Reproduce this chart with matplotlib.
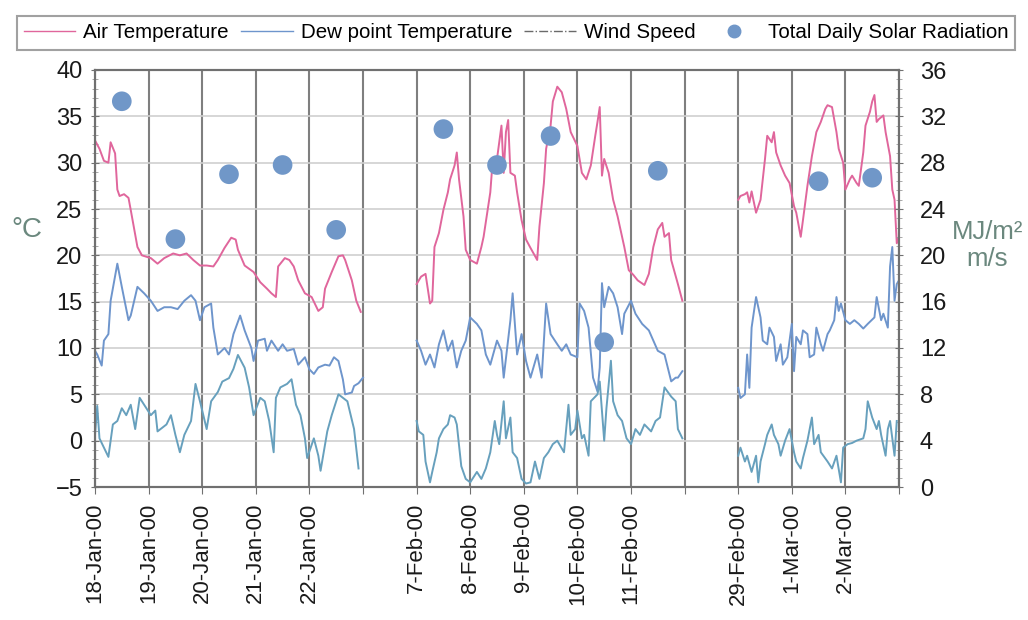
import math

import matplotlib
matplotlib.use("Agg")
import matplotlib.pyplot as plt
from matplotlib.lines import Line2D
from matplotlib.ticker import MultipleLocator

plt.rcParams["font.family"] = ["Liberation Sans", "DejaVu Sans"]

# category slots on the x axis ("" = unlabelled day between blocks)
DAY_LABELS = ["18-Jan-00", "19-Jan-00", "20-Jan-00", "21-Jan-00", "22-Jan-00", "",
              "7-Feb-00", "8-Feb-00", "9-Feb-00", "10-Feb-00", "11-Feb-00", "",
              "29-Feb-00", "1-Mar-00", "2-Mar-00"]
N_SLOTS = 15

# total daily solar radiation (MJ/m2), one per slot, nan = no value
SOLAR = [33.3, 21.4, 27.0, 27.8, 22.2, math.nan,
         30.9, 27.8, 30.3, 12.5, 27.3, math.nan,
         math.nan, 26.4, 26.7]

# ---- block 1: 18-22 Jan (hours since 00:00 18-Jan) ----
JAN_AIR_HR = [0, 2, 4, 6, 7, 9, 10, 11, 13, 15, 16, 19, 21, 25, 28, 31, 35, 38, 41, 44,
              47, 50, 53, 55, 58, 61, 63, 64, 67, 71, 74, 77, 79, 81, 82, 85, 87, 89, 91, 94,
              97, 100, 102, 103, 106, 109, 111, 112, 115, 117, 119]
JAN_AIR = [32.4, 31.5, 30.2, 30.0, 32.2, 31.0, 27.1, 26.4, 26.6, 26.2, 24.9, 20.9, 20.0, 19.7,
           19.1, 19.7, 20.2, 20.0, 20.2, 19.5, 18.9, 18.9, 18.8, 19.5, 20.8, 21.9, 21.7, 20.6,
           18.9, 18.2, 17.1, 16.4, 15.9, 15.5, 18.8, 19.7, 19.5, 18.8, 17.3, 15.9, 15.5, 14.0,
           14.4, 16.4, 18.2, 19.9, 20.0, 19.5, 17.3, 15.1, 13.9]
JAN_DEW_HR = [0, 1, 3, 4, 6, 7, 10, 12, 15, 16, 19, 22, 25, 28, 31, 34, 37, 40, 43, 45,
              47, 49, 52, 53, 55, 58, 60, 62, 65, 67, 70, 71, 73, 76, 77, 79, 82, 84, 86, 89,
              91, 94, 96, 98, 100, 103, 105, 107, 109, 111, 112, 115, 116, 118, 120]
JAN_DEW = [9.7, 9.3, 8.1, 10.8, 11.5, 15.1, 19.1, 16.6, 13.0, 13.5, 16.6, 15.9, 15.1, 14.0,
           14.4, 14.4, 14.2, 15.1, 15.7, 15.1, 13.0, 14.4, 14.8, 12.2, 9.3, 10.0, 9.3, 11.5,
           13.5, 11.9, 10.0, 8.6, 10.8, 11.0, 9.7, 10.8, 9.7, 10.4, 9.7, 9.9, 8.2, 9.0, 7.7,
           7.2, 7.9, 8.2, 8.1, 9.0, 8.6, 6.6, 5.0, 5.2, 5.9, 6.2, 6.8]
JAN_WIND_HR = [0, 1, 2, 4, 6, 8, 10, 12, 14, 16, 18, 20, 22, 25, 27, 28, 32, 34, 36, 38,
               40, 43, 45, 47, 50, 52, 55, 57, 60, 62, 64, 67, 69, 71, 74, 76, 78, 80, 81, 83,
               86, 88, 90, 92, 94, 95, 98, 100, 101, 104, 106, 109, 111, 113, 116, 118]
JAN_WIND = [4.5, 7.0, 4.2, 3.4, 2.6, 5.4, 5.7, 6.8, 6.2, 7.1, 5.0, 7.7, 7.1, 6.2, 6.6, 4.8,
            5.4, 6.2, 4.5, 3.0, 4.5, 5.7, 8.9, 7.4, 5.0, 7.4, 8.2, 9.1, 9.4, 10.2, 11.4, 10.3,
            8.6, 6.2, 7.7, 7.4, 5.7, 3.0, 7.7, 8.6, 8.9, 9.3, 7.1, 6.2, 4.2, 2.5, 4.2, 2.7,
            1.4, 4.8, 6.2, 8.0, 7.7, 7.4, 5.0, 1.6]

# ---- block 2: 7-11 Feb (hours since 00:00 7-Feb) ----
FEB_AIR_HR = [0, 2, 4, 6, 7, 8, 10, 12, 14, 15, 17, 18, 19, 21, 22, 24, 27, 29, 30, 33,
              34, 36, 38, 39, 40, 41, 42, 44, 45, 47, 49, 51, 54, 55, 57, 58, 60, 61, 63, 65,
              67, 69, 72, 74, 76, 78, 80, 81, 82, 83, 84, 86, 88, 90, 93, 95, 97, 99, 102, 104,
              106, 108, 110, 111, 113, 114, 117, 119]
FEB_AIR = [16.9, 17.7, 18.0, 14.8, 15.1, 20.9, 22.4, 24.9, 26.8, 28.2, 29.7, 31.1, 28.2, 24.2,
           20.6, 19.5, 19.1, 20.9, 22.0, 26.8, 30.0, 30.4, 34.0, 28.9, 33.3, 34.6, 28.9, 28.6,
           26.8, 23.8, 21.7, 20.8, 19.5, 23.1, 27.8, 31.5, 34.0, 36.6, 38.2, 37.6, 35.8, 33.3,
           31.8, 28.9, 28.2, 29.7, 32.9, 34.4, 36.0, 28.6, 30.4, 28.9, 26.0, 24.2, 20.9, 18.4,
           17.9, 17.3, 16.8, 18.0, 20.9, 22.8, 23.5, 22.0, 22.4, 19.5, 16.9, 15.1]
FEB_DEW_HR = [0, 2, 4, 6, 8, 10, 12, 14, 16, 18, 20, 22, 24, 27, 29, 31, 33, 36, 38, 39,
              42, 43, 45, 47, 49, 51, 54, 56, 58, 60, 63, 65, 67, 69, 72, 73, 75, 77, 79, 81,
              82, 83, 84, 86, 88, 90, 92, 93, 96, 98, 101, 104, 106, 108, 111, 114, 116, 117, 119]
FEB_DEW = [10.8, 9.7, 8.2, 9.3, 7.9, 10.4, 11.9, 9.7, 10.8, 7.9, 9.7, 10.8, 13.3, 12.6, 11.9,
           9.3, 8.2, 10.8, 9.7, 6.8, 13.0, 15.9, 9.3, 11.5, 8.6, 6.8, 9.3, 6.8, 14.8, 11.5,
           10.4, 9.7, 10.4, 9.3, 9.0, 14.8, 14.0, 12.2, 6.8, 5.3, 7.9, 17.0, 14.4, 16.6, 15.9,
           14.4, 11.5, 13.7, 15.1, 13.7, 12.6, 11.9, 10.8, 9.7, 9.3, 6.4, 6.8, 6.8, 7.5]
FEB_WIND_HR = [0, 1, 3, 4, 6, 7, 9, 10, 12, 14, 15, 17, 18, 20, 22, 24, 27, 29, 31, 33,
               35, 36, 37, 39, 40, 42, 43, 45, 47, 49, 51, 53, 55, 57, 59, 61, 63, 66, 68, 69,
               71, 72, 74, 75, 77, 78, 81, 82, 84, 85, 87, 88, 90, 92, 94, 96, 98, 100, 102, 105,
               107, 109, 111, 114, 116, 117, 119]
FEB_WIND = [5.7, 4.8, 4.5, 2.2, 0.4, 1.3, 3.0, 4.2, 5.0, 5.4, 6.2, 6.0, 5.4, 1.8, 0.7, 0.4,
            1.3, 0.7, 1.6, 3.0, 5.7, 4.5, 3.7, 7.4, 4.2, 6.0, 3.0, 2.5, 0.7, 0.3, 0.4, 2.2,
            0.7, 2.5, 3.0, 3.7, 4.0, 3.0, 7.1, 4.5, 5.0, 6.6, 4.2, 4.5, 2.7, 7.4, 8.0, 9.1,
            4.0, 6.8, 10.9, 7.4, 6.2, 5.7, 4.2, 3.7, 5.0, 4.5, 5.4, 4.8, 5.7, 6.0, 8.6, 7.8,
            7.4, 5.0, 4.2]

# ---- block 3: 29 Feb - 2 Mar (hours since 00:00 29-Feb) ----
MAR_AIR_HR = [0, 1, 3, 4, 5, 6, 8, 9, 10, 12, 13, 15, 16, 17, 19, 21, 23, 25, 26, 28,
              29, 31, 33, 35, 37, 39, 40, 42, 44, 45, 47, 48, 50, 51, 53, 54, 56, 57, 59, 60,
              61, 62, 63, 65, 66, 68, 69, 70, 71, 72]
MAR_AIR = [26.0, 26.4, 26.6, 26.8, 25.7, 26.9, 24.6, 25.3, 26.0, 30.4, 32.9, 32.2, 33.3, 31.1,
           29.7, 28.6, 27.8, 25.3, 24.6, 22.0, 23.8, 27.5, 30.7, 33.3, 34.4, 35.8, 36.2, 36.0,
           33.3, 31.5, 30.0, 27.1, 28.2, 28.6, 27.8, 27.5, 31.1, 34.0, 35.5, 36.6, 37.3, 34.4,
           34.7, 35.1, 33.3, 30.7, 27.1, 26.0, 21.3, 22.0]
MAR_DEW_HR = [0, 1, 3, 4, 5, 6, 8, 9, 10, 11, 13, 14, 16, 17, 19, 20, 22, 24, 25, 26,
              28, 29, 31, 32, 34, 35, 37, 38, 40, 41, 43, 44, 45, 46, 48, 50, 52, 54, 56, 58,
              61, 62, 64, 65, 67, 68, 69, 70, 71, 72]
MAR_DEW = [5.7, 4.6, 5.0, 9.3, 5.7, 12.2, 15.5, 14.4, 13.3, 10.8, 10.4, 12.2, 11.2, 8.6, 10.4,
           8.2, 9.0, 12.6, 7.5, 11.2, 10.4, 11.9, 11.5, 9.0, 9.3, 12.2, 10.4, 9.7, 11.5, 11.9,
           13.0, 15.5, 14.0, 14.8, 13.0, 12.6, 13.0, 12.6, 12.1, 12.6, 13.3, 15.5, 13.0, 13.7,
           12.2, 18.8, 20.9, 15.1, 16.9, 17.3]
MAR_WIND_HR = [0, 1, 3, 4, 6, 8, 9, 10, 12, 13, 15, 16, 18, 19, 21, 23, 25, 26, 28, 29,
               31, 33, 34, 36, 37, 40, 42, 44, 46, 47, 49, 51, 53, 56, 57, 58, 60, 62, 63, 64,
               66, 67, 68, 70, 71]
MAR_WIND = [2.7, 3.4, 2.2, 2.7, 1.3, 2.7, 0.4, 2.2, 3.7, 4.5, 5.4, 4.5, 3.7, 2.7, 4.0, 5.0,
            3.0, 2.2, 1.6, 2.5, 4.0, 6.0, 3.7, 4.5, 3.0, 2.2, 1.6, 2.7, 0.4, 3.4, 3.7, 3.8,
            4.0, 4.2, 5.0, 7.4, 6.0, 5.0, 5.7, 4.5, 2.7, 5.0, 5.7, 2.7, 5.7]

BLOCKS = [
    ("18-Jan-00", JAN_AIR_HR, JAN_AIR, JAN_DEW_HR, JAN_DEW, JAN_WIND_HR, JAN_WIND),
    ("7-Feb-00", FEB_AIR_HR, FEB_AIR, FEB_DEW_HR, FEB_DEW, FEB_WIND_HR, FEB_WIND),
    ("29-Feb-00", MAR_AIR_HR, MAR_AIR, MAR_DEW_HR, MAR_DEW, MAR_WIND_HR, MAR_WIND),
]

AIR_COLOR = "#e0669c"
DEW_COLOR = "#6e95cc"
WIND_COLOR = "#67a0bd"
SOLAR_COLOR = "#7097c8"
NOTE_COLOR = "#6b887e"


def to_x(first_day, hours):
    start = DAY_LABELS.index(first_day)
    return [start + h / 24.0 for h in hours]


fig = plt.figure(figsize=(10.28, 6.2), dpi=100)
ax = fig.add_axes([95 / 1028, 1 - 487 / 620, 804 / 1028, 417 / 620])
ax2 = ax.twinx()

for first, air_h, air, dew_h, dew, wind_h, wind in BLOCKS:
    ax.plot(to_x(first, air_h), air, color=AIR_COLOR, lw=1.4)
    ax.plot(to_x(first, dew_h), dew, color=DEW_COLOR, lw=1.4)
    ax2.plot(to_x(first, wind_h), wind, color=WIND_COLOR, lw=1.4)

ax2.scatter([i + 0.5 for i in range(N_SLOTS)], SOLAR, s=200, color=SOLAR_COLOR,
            edgecolors="none", zorder=5)

ax.set_xlim(0, N_SLOTS)
ax.set_ylim(-5, 40)
ax2.set_ylim(0, 36)
ax.set_yticks(range(-5, 41, 5))
ax2.set_yticks(range(0, 37, 4))
ax.yaxis.set_minor_locator(MultipleLocator(1))
ax2.yaxis.set_minor_locator(MultipleLocator(0.8))

ax.set_xticks(range(N_SLOTS + 1))
ax.set_xticklabels(DAY_LABELS + [""], rotation=90)

ax.grid(axis="y", color="#cfcfcf", lw=1.2)
ax.grid(axis="x", color="#7f7f7f", lw=1.5)
ax.set_axisbelow(True)

for a in (ax, ax2):
    for sp in a.spines.values():
        sp.set_color("#707070")
        sp.set_linewidth(1.5)
ax.tick_params(axis="y", labelsize=17, direction="inout", length=6, colors="#707070",
               labelcolor="#1a1a1a", pad=6)
ax.tick_params(axis="y", which="minor", direction="inout", length=4, colors="#9a9a9a")
ax2.tick_params(axis="y", labelsize=17, direction="inout", length=6, colors="#707070",
                labelcolor="#1a1a1a", pad=12)
ax2.tick_params(axis="y", which="minor", direction="inout", length=4, colors="#9a9a9a")
ax.tick_params(axis="x", labelsize=16, length=5, colors="#707070", labelcolor="#1a1a1a",
               pad=6)

ax.set_ylabel("°C", rotation=0, fontsize=20, color=NOTE_COLOR, va="center")
ax.yaxis.set_label_coords(-0.085, 0.616)
ax2.set_ylabel("MJ/m²\nm/s", rotation=0, fontsize=18.5, color=NOTE_COLOR, va="center",
               ha="center", linespacing=1.15)
ax2.yaxis.set_label_coords(1.11, 0.58)

handles = [
    Line2D([], [], color=AIR_COLOR, lw=1.0),
    Line2D([], [], color=DEW_COLOR, lw=1.0),
    Line2D([], [], color="#6a6a6a", lw=1.0, ls="-."),
    Line2D([], [], color=SOLAR_COLOR, marker="o", ls="none", ms=9),
]
labels = ["Air Temperature", "Dew point Temperature", "Wind Speed",
          "Total Daily Solar Radiation"]
leg = fig.legend(handles, labels, loc="center", ncol=4,
                 bbox_to_anchor=(516 / 1028, 1 - 33 / 620),
                 borderaxespad=0, fancybox=False, fontsize=14.8, handlelength=2.5,
                 handletextpad=0.4, columnspacing=0.6, borderpad=0.35)
leg.get_frame().set_edgecolor("#8a8a8a")
leg.get_frame().set_linewidth(1.5)

fig.savefig("out.png", dpi=100)
